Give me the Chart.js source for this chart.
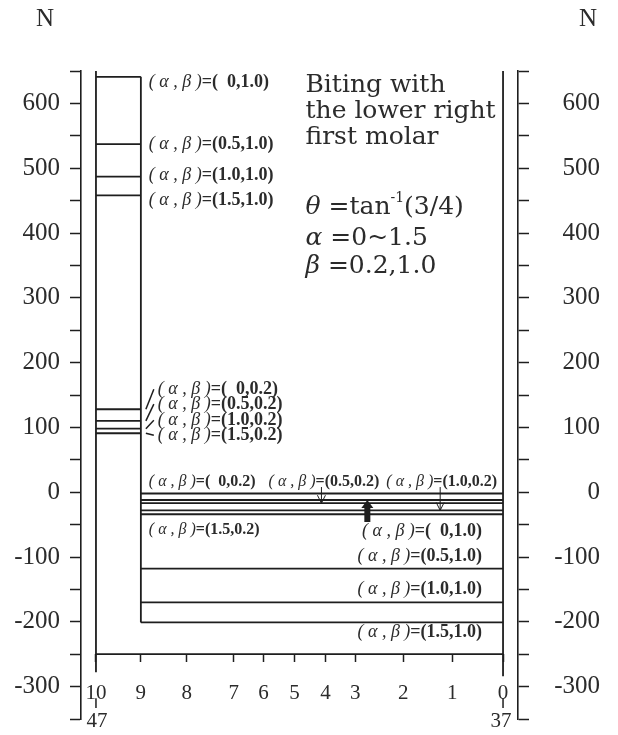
<!DOCTYPE html>
<html>
<head>
<meta charset="utf-8">
<script src="https://cdn.jsdelivr.net/npm/chart.js@4/dist/chart.umd.min.js"></script>
<style>
html, body { margin: 0; padding: 0; background: #fff; }
</style>
</head>
<body>
<canvas id="chart" width="618" height="735"></canvas>
<script>
// tooth positions along the arch, 10 (left, 47) ... 0 (right, 37)
var toothLabels = ['10', '9', '8', '7', '6', '5', '4', '3', '2', '1', '0'];
var toothPos = [408, 363, 317, 270, 240, 209, 178, 148, 100, 51, 0];
var endLabels = ['47', '37'];

// cases
var alphaCases = ['0', '0.5', '1.0', '1.5'];
var betaCases = ['0.2', '1.0'];

// force N, segment 10-9
var leftBeta10 = [641, 537, 487, 458];
var leftBeta02 = [128, 110, 98, 91];
// force N, segment 9-0
var rightBeta02 = [-2, -17, -28, -34];
var rightBeta10 = [-12, -118, -170, -201];

var baseForce = -250;
var frameEnds = [650, -278, -284];   // top of frame, bottom of 10 line, bottom of 0 line

var yLabels = [-300, -200, -100, 0, 100, 200, 300, 400, 500, 600];

// where the case labels sit (tooth units / N)
var leftLabelY10 = [633, 537, 489, 451];
var leftLabelY02 = [159, 136, 111, 88];
var rightLabelX02 = [355, 235, 117, 355];
var rightLabelY02 = [16, 16, 16, -58];
var rightLabelY10 = [-61, -99, -150, -216];

var INK = '#1e1e1e';
var TXT = '#2b2b2b';

function seg(x1, x2, y1, y2) {
    return { data: [{ x: x1, y: y1 }, { x: x2, y: y2 }] };
}

var datasets = [];
// frame
datasets.push(seg(toothPos[0], toothPos[10], baseForce, baseForce));
datasets.push(seg(toothPos[0], toothPos[0], frameEnds[0], frameEnds[1]));
datasets.push(seg(toothPos[10], toothPos[10], frameEnds[0], frameEnds[2]));
datasets.push(seg(toothPos[1], toothPos[1], leftBeta10[0], rightBeta10[3]));
// results
leftBeta10.forEach(function (v) { datasets.push(seg(toothPos[0], toothPos[1], v, v)); });
leftBeta02.forEach(function (v) { datasets.push(seg(toothPos[0], toothPos[1], v, v)); });
rightBeta02.forEach(function (v) { datasets.push(seg(toothPos[1], toothPos[10], v, v)); });
rightBeta10.forEach(function (v) { datasets.push(seg(toothPos[1], toothPos[10], v, v)); });

function caseText(a, b) {
    return ['( \u03b1 , \u03b2 )', '=(' + (a.length == 1 ? '  ' + a : a) + ',' + b + ')'];
}

function drawCase(ctx, x, y, a, b, align, size) {
    var t = caseText(a, b);
    var f1 = 'italic ' + size + 'px "Liberation Serif"';
    var f2 = 'bold ' + size + 'px "Liberation Serif"';
    ctx.font = f1;
    var w1 = ctx.measureText(t[0]).width;
    ctx.font = f2;
    var w2 = ctx.measureText(t[1]).width;
    var x0 = align == 'right' ? x - w1 - w2 : x;
    ctx.textAlign = 'left';
    ctx.textBaseline = 'middle';
    ctx.fillStyle = TXT;
    ctx.font = f1;
    ctx.fillText(t[0], x0, y);
    ctx.font = f2;
    ctx.fillText(t[1], x0 + w1, y);
}

var notes = {
    id: 'notes',
    afterDraw: function (chart) {
        var ctx = chart.ctx;
        var xs = chart.scales.x, ys = chart.scales.y;
        var X = function (v) { return xs.getPixelForValue(v); };
        var Y = function (v) { return ys.getPixelForValue(v); };
        ctx.save();

        // N over both axes
        ctx.fillStyle = TXT;
        ctx.font = '25px "Liberation Serif"';
        ctx.textAlign = 'center';
        ctx.textBaseline = 'middle';
        ctx.fillText('N', 45, 19);
        ctx.fillText('N', 588, 19);

        // 47 / 37 under the end teeth
        ctx.strokeStyle = INK;
        ctx.lineWidth = 1.5;
        [toothPos[0], toothPos[10]].forEach(function (p, i) {
            ctx.beginPath();
            ctx.moveTo(X(p), Y(-318));
            ctx.lineTo(X(p), Y(-333));
            ctx.stroke();
            ctx.font = '21px "Liberation Serif"';
            ctx.fillText(endLabels[i], X(p) - (i ? 2 : -1), Y(-354));
        });

        // case labels, segment 10-9
        for (var i = 0; i < 4; i++) {
            drawCase(ctx, X(355), Y(leftLabelY10[i]), alphaCases[i], betaCases[1], 'left', 18);
            drawCase(ctx, X(346), Y(leftLabelY02[i]), alphaCases[i], betaCases[0], 'left', 18);
            ctx.beginPath();
            ctx.moveTo(X(toothPos[1]) + 5, Y(leftBeta02[i]));
            ctx.lineTo(X(350), Y(leftLabelY02[i]));
            ctx.stroke();
        }
        // case labels, segment 9-0
        for (var j = 0; j < 4; j++) {
            drawCase(ctx, X(rightLabelX02[j]), Y(rightLabelY02[j]), alphaCases[j], betaCases[0], 'left', 16);
            drawCase(ctx, X(21), Y(rightLabelY10[j]), alphaCases[j], betaCases[1], 'right', 18);
        }

        // thin arrows to (0.5,0.2) and (1.0,0.2)
        [[182, rightBeta02[1]], [63, rightBeta02[2]]].forEach(function (a) {
            var ax = X(a[0]), top = Y(8), tip = Y(a[1]);
            ctx.lineWidth = 1;
            ctx.beginPath();
            ctx.moveTo(ax, top); ctx.lineTo(ax, tip);
            ctx.moveTo(ax - 4, tip - 8); ctx.lineTo(ax, tip); ctx.lineTo(ax + 4, tip - 8);
            ctx.stroke();
        });
        // thick arrow up to (0,1.0)
        var bx = X(136), btip = Y(rightBeta10[0]), bbot = Y(-46);
        ctx.fillStyle = INK;
        ctx.beginPath();
        ctx.moveTo(bx, btip);
        ctx.lineTo(bx + 6, btip + 8);
        ctx.lineTo(bx + 3, btip + 8);
        ctx.lineTo(bx + 3, bbot);
        ctx.lineTo(bx - 3, bbot);
        ctx.lineTo(bx - 3, btip + 8);
        ctx.lineTo(bx - 6, btip + 8);
        ctx.closePath();
        ctx.fill();

        // title block
        ctx.fillStyle = TXT;
        ctx.textAlign = 'left';
        ctx.textBaseline = 'middle';
        var tx = X(198);
        ctx.font = '25px "DejaVu Serif"';
        ctx.fillText('Biting with', tx, Y(628));
        ctx.fillText('the lower right', tx, Y(587));
        ctx.fillText('first molar', tx, Y(548));

        var y1 = Y(439), cx = tx;
        ctx.font = 'italic 25px "DejaVu Serif"';
        ctx.fillText('\u03b8', cx, y1); cx += ctx.measureText('\u03b8 ').width;
        ctx.font = '25px "DejaVu Serif"';
        ctx.fillText('=tan', cx, y1); cx += ctx.measureText('=tan').width;
        ctx.font = '14px "DejaVu Serif"';
        ctx.fillText('-1', cx, y1 - 9); cx += ctx.measureText('-1').width;
        ctx.font = '25px "DejaVu Serif"';
        ctx.fillText('(3/4)', cx, y1);

        [['\u03b1', '=0~1.5', 392], ['\u03b2', '=0.2,1.0', 349]].forEach(function (r) {
            var yy = Y(r[2]);
            ctx.font = 'italic 25px "DejaVu Serif"';
            ctx.fillText(r[0], tx, yy);
            var w = ctx.measureText(r[0] + ' ').width;
            ctx.font = '25px "DejaVu Serif"';
            ctx.fillText(r[1], tx + w, yy);
        });
        ctx.restore();
    }
};

function yAxis(pos, width, pad, cross) {
    return {
        type: 'linear',
        position: pos,
        min: -350,
        max: 650,
        afterFit: function (s) {
            s.width = width;
            s.paddingTop = 0;
            s.paddingBottom = 0;
        },
        ticks: {
            stepSize: 50,
            autoSkip: false,
            padding: pad,
            crossAlign: cross,
            color: TXT,
            font: { family: 'Liberation Serif', size: 25 },
            callback: function (v) { return yLabels.indexOf(v) >= 0 ? String(v) : ''; }
        },
        grid: { drawOnChartArea: false, tickLength: 11, tickColor: INK, tickWidth: 1.5 },
        border: { color: INK, width: 1.6 }
    };
}

var ctx = document.getElementById('chart').getContext('2d');
var chart = new Chart(ctx, {
    type: 'line',
    data: { datasets: datasets },
    options: {
        responsive: false,
        animation: false,
        layout: { padding: { top: 71, bottom: 16, right: 18 } },
        plugins: { legend: { display: false }, tooltip: { enabled: false } },
        elements: {
            point: { radius: 0 },
            line: { borderColor: INK, borderWidth: 1.8, tension: 0 }
        },
        scales: {
            x: {
                type: 'linear',
                reverse: true,
                min: -15,
                max: 423,
                position: { y: baseForce },
                afterFit: function (s) {
                    s.height = 0;
                    s.paddingLeft = 0;
                    s.paddingRight = 0;
                },
                afterBuildTicks: function (s) {
                    s.ticks = toothPos.map(function (p) { return { value: p }; });
                },
                ticks: {
                    autoSkip: false,
                    maxRotation: 0,
                    padding: 19,
                    color: TXT,
                    font: { family: 'Liberation Serif', size: 21 },
                    callback: function (v, i) { return toothLabels[i]; }
                },
                grid: { drawOnChartArea: false, tickLength: 8, tickColor: INK, tickWidth: 1.5 },
                border: { display: false }
            },
            y: yAxis('left', 81, 10, 'near'),
            y2: yAxis('right', 82, 0, 'far')
        }
    },
    plugins: [notes]
});
</script>
</body>
</html>
